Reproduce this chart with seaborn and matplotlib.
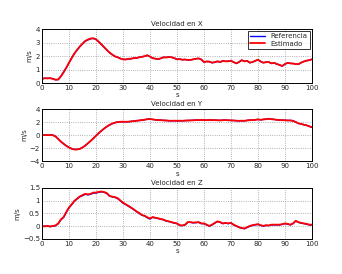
import matplotlib
matplotlib.use("Agg")
import matplotlib.pyplot as plt
import seaborn as sns
import pandas as pd

t = list(range(101))

vx_ref = [0.30, 0.35, 0.35, 0.35, 0.32, 0.25, 0.25, 0.50, 0.80, 1.15,
          1.50, 1.85, 2.20, 2.45, 2.70, 2.90, 3.10, 3.20, 3.28, 3.30,
          3.22, 3.05, 2.85, 2.65, 2.45, 2.25, 2.10, 1.98, 1.90, 1.82,
          1.75, 1.75, 1.78, 1.80, 1.85, 1.85, 1.90, 1.95, 1.98, 2.05,
          1.95, 1.85, 1.80, 1.78, 1.82, 1.90, 1.90, 1.92, 1.90, 1.85,
          1.75, 1.78, 1.72, 1.75, 1.70, 1.72, 1.75, 1.80, 1.82, 1.75,
          1.55, 1.60, 1.58, 1.50, 1.55, 1.60, 1.55, 1.65, 1.60, 1.62,
          1.65, 1.55, 1.45, 1.55, 1.70, 1.60, 1.65, 1.50, 1.55, 1.65,
          1.72, 1.60, 1.50, 1.55, 1.55, 1.45, 1.50, 1.40, 1.35, 1.25,
          1.40, 1.50, 1.45, 1.45, 1.40, 1.40, 1.50, 1.60, 1.65, 1.70,
          1.75]
vx_est = [0.32, 0.36, 0.34, 0.36, 0.31, 0.24, 0.27, 0.50, 0.81, 1.14,
          1.51, 1.86, 2.19, 2.46, 2.71, 2.92, 3.12, 3.22, 3.30, 3.32,
          3.24, 3.06, 2.86, 2.66, 2.44, 2.26, 2.11, 1.97, 1.91, 1.81,
          1.76, 1.74, 1.79, 1.81, 1.84, 1.86, 1.91, 1.94, 1.99, 2.06,
          1.96, 1.84, 1.81, 1.77, 1.83, 1.91, 1.89, 1.93, 1.91, 1.84,
          1.76, 1.77, 1.73, 1.74, 1.71, 1.71, 1.76, 1.79, 1.83, 1.74,
          1.56, 1.59, 1.59, 1.51, 1.54, 1.61, 1.56, 1.64, 1.61, 1.61,
          1.66, 1.54, 1.46, 1.56, 1.69, 1.61, 1.64, 1.51, 1.56, 1.64,
          1.73, 1.59, 1.51, 1.54, 1.56, 1.46, 1.49, 1.41, 1.34, 1.26,
          1.41, 1.49, 1.46, 1.44, 1.41, 1.39, 1.51, 1.59, 1.66, 1.69,
          1.76]

vy_ref = [0.00, 0.00, 0.00, 0.00, 0.00, -0.20, -0.60, -1.00, -1.35, -1.65,
          -1.90, -2.10, -2.20, -2.20, -2.10, -1.90, -1.60, -1.25, -0.90, -0.50,
          -0.10, 0.30, 0.65, 1.00, 1.30, 1.55, 1.75, 1.90, 2.00, 2.05,
          2.05, 2.05, 2.05, 2.10, 2.15, 2.20, 2.25, 2.30, 2.35, 2.45,
          2.45, 2.40, 2.35, 2.30, 2.30, 2.25, 2.25, 2.20, 2.20, 2.20,
          2.20, 2.20, 2.20, 2.22, 2.25, 2.25, 2.28, 2.30, 2.30, 2.32,
          2.30, 2.30, 2.32, 2.30, 2.30, 2.28, 2.25, 2.30, 2.30, 2.28,
          2.25, 2.25, 2.20, 2.20, 2.20, 2.20, 2.25, 2.30, 2.30, 2.35,
          2.40, 2.35, 2.40, 2.45, 2.50, 2.45, 2.40, 2.35, 2.30, 2.30,
          2.28, 2.25, 2.25, 2.20, 2.00, 1.80, 1.70, 1.60, 1.50, 1.35,
          1.20]
vy_est = [0.02, -0.01, 0.01, 0.00, -0.02, -0.22, -0.59, -1.02, -1.34, -1.66,
          -1.91, -2.11, -2.22, -2.21, -2.12, -1.91, -1.61, -1.26, -0.89, -0.51,
          -0.09, 0.31, 0.66, 1.01, 1.31, 1.56, 1.76, 1.91, 2.01, 2.04,
          2.06, 2.04, 2.06, 2.11, 2.14, 2.21, 2.24, 2.31, 2.36, 2.44,
          2.46, 2.41, 2.34, 2.31, 2.29, 2.26, 2.24, 2.21, 2.19, 2.21,
          2.19, 2.21, 2.19, 2.23, 2.24, 2.26, 2.27, 2.31, 2.29, 2.33,
          2.31, 2.29, 2.33, 2.29, 2.31, 2.27, 2.26, 2.29, 2.31, 2.27,
          2.26, 2.24, 2.21, 2.19, 2.21, 2.19, 2.26, 2.29, 2.31, 2.34,
          2.41, 2.34, 2.41, 2.44, 2.51, 2.44, 2.41, 2.34, 2.31, 2.29,
          2.29, 2.24, 2.26, 2.19, 2.01, 1.79, 1.71, 1.59, 1.51, 1.34,
          1.21]

vz_ref = [0.00, 0.00, 0.00, -0.02, 0.00, 0.02, 0.10, 0.25, 0.35, 0.55,
          0.72, 0.85, 0.98, 1.07, 1.15, 1.20, 1.25, 1.23, 1.25, 1.30,
          1.30, 1.33, 1.35, 1.33, 1.28, 1.18, 1.15, 1.13, 1.08, 1.00,
          0.90, 0.85, 0.78, 0.72, 0.65, 0.57, 0.50, 0.43, 0.40, 0.33,
          0.28, 0.35, 0.32, 0.30, 0.27, 0.25, 0.20, 0.18, 0.15, 0.12,
          0.10, 0.03, 0.02, 0.05, 0.15, 0.15, 0.13, 0.14, 0.15, 0.10,
          0.10, 0.05, 0.00, 0.05, 0.12, 0.18, 0.15, 0.10, 0.12, 0.10,
          0.12, 0.05, 0.00, -0.05, -0.08, -0.10, -0.05, 0.00, 0.03, 0.05,
          0.07, 0.03, 0.00, 0.03, 0.02, 0.05, 0.05, 0.05, 0.05, 0.07,
          0.10, 0.08, 0.05, 0.10, 0.20, 0.15, 0.12, 0.10, 0.08, 0.05,
          0.05]
vz_est = [0.01, -0.01, 0.01, -0.01, 0.01, 0.03, 0.11, 0.27, 0.36, 0.56,
          0.74, 0.86, 1.00, 1.08, 1.17, 1.22, 1.27, 1.25, 1.27, 1.32,
          1.32, 1.35, 1.36, 1.34, 1.30, 1.19, 1.16, 1.14, 1.10, 1.01,
          0.92, 0.86, 0.80, 0.73, 0.66, 0.58, 0.52, 0.44, 0.41, 0.35,
          0.30, 0.36, 0.33, 0.31, 0.28, 0.26, 0.21, 0.19, 0.16, 0.13,
          0.11, 0.04, 0.03, 0.06, 0.16, 0.16, 0.14, 0.15, 0.16, 0.11,
          0.11, 0.06, 0.01, 0.06, 0.13, 0.19, 0.16, 0.11, 0.13, 0.11,
          0.13, 0.06, 0.01, -0.04, -0.07, -0.09, -0.04, 0.01, 0.04, 0.06,
          0.08, 0.04, 0.01, 0.04, 0.03, 0.06, 0.06, 0.06, 0.06, 0.08,
          0.11, 0.09, 0.06, 0.11, 0.21, 0.16, 0.13, 0.11, 0.09, 0.06,
          0.06]

titles = ["Velocidad en X", "Velocidad en Y", "Velocidad en Z"]
ylims = [(0, 4), (-4, 4), (-0.5, 1.5)]
yticks = [[0, 1, 2, 3, 4], [-4, -2, 0, 2, 4], [-0.5, 0, 0.5, 1, 1.5]]
ytick_labels = [["0", "1", "2", "3", "4"], ["\u22124", "\u22122", "0", "2", "4"],
                ["\u22120.5", "0", "0.5", "1", "1.5"]]
series = [(vx_ref, vx_est), (vy_ref, vy_est), (vz_ref, vz_est)]

sns.set_style("white")
plt.rcParams["font.family"] = ["DejaVu Sans"]
plt.rcParams["font.size"] = 5

fig = plt.figure(figsize=(3.42, 2.74), dpi=100)
positions = [[0.123, 0.697, 0.789, 0.197],
             [0.123, 0.412, 0.789, 0.190],
             [0.123, 0.128, 0.789, 0.186]]

for i in range(3):
    ax = fig.add_axes(positions[i])
    ref, est = series[i]
    df = pd.DataFrame({"t": t, "Referencia": ref, "Estimado": est})
    sns.lineplot(data=df, x="t", y="Referencia", color="blue", linewidth=1.0,
                 ax=ax, label="Referencia" if i == 0 else None)
    sns.lineplot(data=df, x="t", y="Estimado", color="red", linewidth=1.3,
                 ax=ax, label="Estimado" if i == 0 else None)
    ax.set_xlim(0, 100)
    ax.set_ylim(*ylims[i])
    ax.set_xticks(range(0, 101, 10))
    ax.set_yticks(yticks[i])
    ax.set_yticklabels(ytick_labels[i])
    ax.grid(True, linestyle=":", color="#999999", linewidth=0.6)
    ax.tick_params(direction="in", length=2, labelsize=5, pad=1.5)
    for s in ax.spines.values():
        s.set_color("black")
        s.set_linewidth(0.7)
    ax.set_title(titles[i], fontsize=5, pad=2)
    ax.set_xlabel("s", fontsize=5, labelpad=1)
    ax.set_ylabel("m/s", fontsize=5, labelpad=2)
    if i == 0:
        leg = ax.legend(loc="upper right", fontsize=5, frameon=True,
                        fancybox=False, borderpad=0.3, handlelength=2.2,
                        labelspacing=0.2, borderaxespad=0.3)
        leg.get_frame().set_edgecolor("black")
        leg.get_frame().set_linewidth(0.7)

fig.savefig("out.png", dpi=100, facecolor="white")
